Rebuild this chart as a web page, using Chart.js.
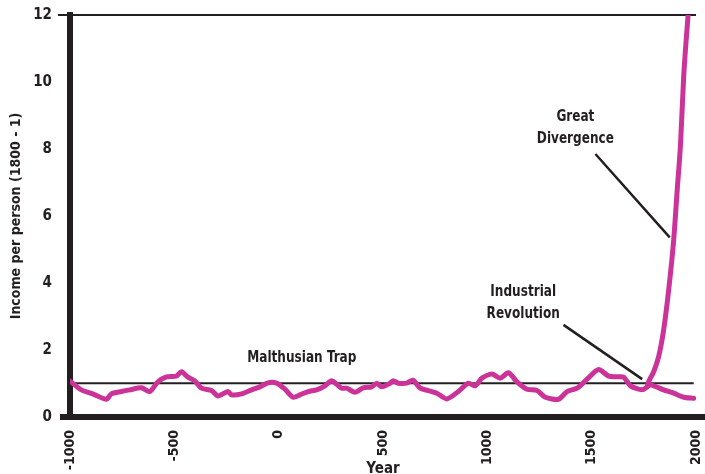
<!DOCTYPE html>
<html>
<head>
<meta charset="utf-8">
<script src="https://cdn.jsdelivr.net/npm/chart.js@4.4.1/dist/chart.umd.min.js"></script>
<style>
  body { margin: 0; background: #fff; }
  canvas { display: block; }
</style>
</head>
<body>
<canvas id="incomeChart" width="705" height="474"></canvas>
<script>
// income per person, 1800 = 1
var lowYears = [-1000, -946, -891, -826, -802, -754, -714, -658, -618, -579,
    -538, -490, -466, -435, -402, -370, -322, -291, -243, -226,
    -178, -130, -90, -51, -10, 30, 69, 102, 141, 182,
    222, 254, 302, 326, 366, 405, 446, 470, 494, 534,
    549, 573, 614, 643, 678, 717, 758, 806, 861, 909,
    942, 974, 1022, 1062, 1101, 1142, 1190, 1238, 1278, 1341,
    1382, 1430, 1478, 1533, 1581, 1622, 1653, 1686, 1742, 1766,
    1782, 1845, 1893, 1941, 1989];
var lowIncome = [1.07, 0.81, 0.69, 0.53, 0.69, 0.76, 0.81, 0.87, 0.76, 1.05,
    1.20, 1.22, 1.35, 1.19, 1.08, 0.86, 0.79, 0.63, 0.76, 0.66,
    0.69, 0.81, 0.90, 1.02, 1.01, 0.83, 0.59, 0.66, 0.76, 0.81,
    0.93, 1.08, 0.86, 0.86, 0.74, 0.87, 0.90, 1.01, 0.90, 1.01,
    1.08, 1.01, 1.01, 1.10, 0.86, 0.79, 0.71, 0.54, 0.76, 1.01,
    0.93, 1.16, 1.28, 1.16, 1.32, 1.05, 0.83, 0.79, 0.59, 0.53,
    0.76, 0.86, 1.13, 1.42, 1.22, 1.20, 1.19, 0.93, 0.81, 0.90,
    0.96, 0.81, 0.71, 0.59, 0.56];

var richYears = [1766, 1773, 1797, 1821, 1845, 1869, 1893, 1910, 1926, 1941, 1962];
var richIncome = [0.90, 1.05, 1.35, 1.80, 2.60, 3.79, 5.28, 6.78, 8.17, 10.16, 12.0];

var trapYears = [-1000, 1989];
var trapIncome = [1.01, 1.01];

var yTicks = [0, 2, 4, 6, 8, 10, 12];

// annotation texts and pointer lines (data coordinates)
var notes = [
    { x: 111, y: 1.76, lines: ['Malthusian Trap'] },
    { x: 1172, y: 3.40, lines: ['Industrial', 'Revolution'] },
    { x: 1422, y: 8.63, lines: ['Great', 'Divergence'] }
];
var pointers = [
    { x1: 1365, y1: 2.75, x2: 1742, y2: 1.13 },
    { x1: 1518, y1: 7.85, x2: 1874, y2: 5.36 }
];

function toPoints(xs, ys) {
    return xs.map(function (x, i) { return { x: x, y: ys[i] }; });
}

var ink = '#231f20';
var magenta = '#cc3399';
var fontFamily = '"DejaVu Sans", sans-serif';
var weight = 'bold condensed'; // condensed face goes into the font string

Chart.defaults.font.family = fontFamily;
Chart.defaults.font.weight = weight;
Chart.defaults.color = ink;

var notesPlugin = {
    id: 'notes',
    afterDatasetsDraw: function (chart) {
        var ctx = chart.ctx;
        var xs = chart.scales.x;
        var ys = chart.scales.y;
        var area = chart.chartArea;
        ctx.save();
        // thick bottom axis
        ctx.strokeStyle = ink;
        ctx.lineWidth = 6;
        ctx.beginPath();
        ctx.moveTo(area.left - 10, area.bottom);
        ctx.lineTo(chart.width, area.bottom);
        ctx.stroke();

        ctx.lineWidth = 2.5;
        pointers.forEach(function (p) {
            ctx.beginPath();
            ctx.moveTo(xs.getPixelForValue(p.x1), ys.getPixelForValue(p.y1));
            ctx.lineTo(xs.getPixelForValue(p.x2), ys.getPixelForValue(p.y2));
            ctx.stroke();
        });

        ctx.fillStyle = ink;
        ctx.font = weight + ' 16px ' + fontFamily;
        ctx.textAlign = 'center';
        ctx.textBaseline = 'middle';
        notes.forEach(function (n) {
            var cx = xs.getPixelForValue(n.x);
            var cy = ys.getPixelForValue(n.y);
            var lh = 22;
            var top = cy - (n.lines.length - 1) * lh / 2;
            n.lines.forEach(function (t, i) {
                // squeeze a bit, the original type is narrower
                ctx.save();
                ctx.translate(cx, top + i * lh);
                ctx.scale(0.84, 1);
                ctx.fillText(t, 0, 0);
                ctx.restore();
            });
        });
        ctx.restore();
    }
};

var chart = new Chart(document.getElementById('incomeChart').getContext('2d'), {
    type: 'line',
    data: {
        datasets: [{
            label: 'Rich',
            data: toPoints(richYears, richIncome),
            borderColor: magenta,
            borderWidth: 5,
            pointRadius: 0,
            cubicInterpolationMode: 'monotone',
            borderCapStyle: 'round',
            borderJoinStyle: 'round'
        }, {
            label: 'Income',
            data: toPoints(lowYears, lowIncome),
            borderColor: magenta,
            borderWidth: 5,
            pointRadius: 0,
            tension: 0.25,
            borderCapStyle: 'round',
            borderJoinStyle: 'round'
        }, {
            label: 'Trap',
            data: toPoints(trapYears, trapIncome),
            borderColor: ink,
            borderWidth: 2,
            pointRadius: 0
        }]
    },
    options: {
        responsive: false,
        animation: false,
        layout: {
            padding: { top: 15, right: 9, left: 0, bottom: 0 }
        },
        plugins: {
            legend: { display: false },
            tooltip: { enabled: false }
        },
        scales: {
            x: {
                type: 'linear',
                min: -1000,
                max: 2000,
                grid: { display: false, drawTicks: false },
                border: { display: false },
                ticks: {
                    stepSize: 500,
                    minRotation: 90,
                    maxRotation: 90,
                    padding: 13,
                    font: { size: 14, weight: weight },
                    callback: function (v) { return String(v); }
                },
                title: {
                    display: true,
                    text: 'Year',
                    font: { size: 15, weight: weight },
                    padding: { top: 0, bottom: -4 }
                },
                afterFit: function (scale) {
                    scale.height = 57;
                    scale.paddingLeft = 0;
                    scale.paddingRight = 0;
                }
            },
            y: {
                min: 0,
                max: 12,
                afterBuildTicks: function (scale) {
                    scale.ticks = yTicks.map(function (v) { return { value: v }; });
                },
                grid: {
                    color: function (c) { return c.tick && c.tick.value === 12 ? ink : 'rgba(0,0,0,0)'; },
                    lineWidth: 2,
                    tickLength: 12
                },
                border: { display: true, color: ink, width: 6 },
                ticks: {
                    padding: 6,
                    font: { size: 15, weight: weight }
                },
                title: {
                    display: true,
                    text: 'Income per person (1800 - 1)',
                    font: { size: 14, weight: weight },
                    padding: { top: 8, bottom: 0 }
                },
                afterFit: function (scale) { scale.width = 70; }
            }
        }
    },
    plugins: [notesPlugin]
});
</script>
</body>
</html>
